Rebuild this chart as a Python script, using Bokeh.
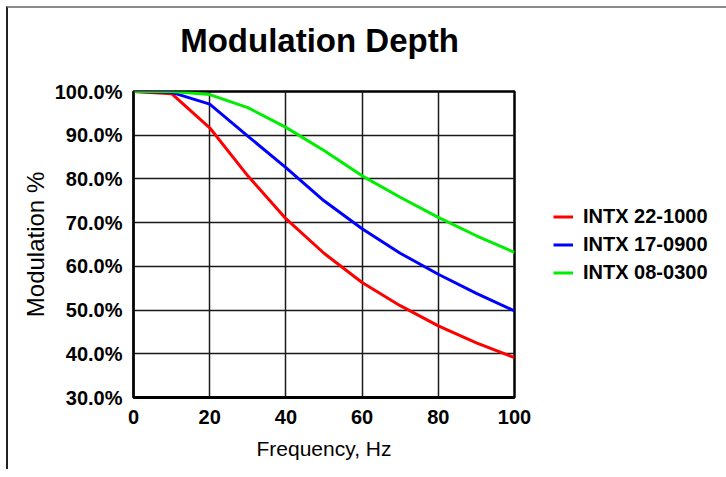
from bokeh.plotting import figure
from bokeh.models import Legend, LegendItem, NumeralTickFormatter, FixedTicker, Range1d, Div
from bokeh.layouts import column
from bokeh.embed import file_html
from bokeh.resources import INLINE

freq = [0, 10, 20, 30, 40, 50, 60, 70, 80, 90, 100]
intx_22_1000 = [1.000, 0.995, 0.917, 0.807, 0.709, 0.630, 0.563, 0.510, 0.464, 0.425, 0.391]
intx_17_0900 = [1.000, 0.998, 0.971, 0.898, 0.826, 0.750, 0.686, 0.630, 0.582, 0.538, 0.498]
intx_08_0300 = [1.000, 1.000, 0.993, 0.963, 0.918, 0.865, 0.807, 0.758, 0.712, 0.670, 0.632]
series_names = ["INTX 22-1000", "INTX 17-0900", "INTX 08-0300"]
series_colors = ["#ff0000", "#0000ff", "#00ee00"]
x_ticks = [0, 20, 40, 60, 80, 100]
y_ticks = [0.3, 0.4, 0.5, 0.6, 0.7, 0.8, 0.9, 1.0]
title_text = "Modulation Depth"

FONT = "Liberation Sans"

title_div = Div(text=title_text, width=613, height=50,
                styles={"font-family": FONT, "font-size": "33px", "font-weight": "bold",
                        "text-align": "center", "line-height": "55px", "color": "#000000"})

p = figure(frame_width=381, frame_height=306, output_backend="svg", toolbar_location=None,
           min_border_left=125, min_border_right=204, min_border_top=23, min_border_bottom=72,
           x_range=Range1d(0, 100), y_range=Range1d(0.3, 1.0))
p.background_fill_color = "white"
p.border_fill_color = "white"
p.outline_line_color = "#000000"
p.outline_line_width = 2.5

renderers = []
for ys, c in zip([intx_22_1000, intx_17_0900, intx_08_0300], series_colors):
    r = p.line(freq, ys, line_color=c, line_width=3)
    renderers.append(r)

for ax in (p.xaxis[0], p.yaxis[0]):
    ax.major_label_text_font = FONT
    ax.major_label_text_font_size = "20px"
    ax.major_label_text_font_style = "bold"
    ax.major_label_text_color = "#000000"
    ax.axis_label_text_font = FONT
    ax.axis_label_text_font_style = "normal"
    ax.axis_label_text_color = "#000000"
    ax.major_tick_line_color = None
    ax.minor_tick_line_color = None
    ax.major_tick_out = 0
    ax.major_tick_in = 0

p.xaxis.axis_label_text_font_size = "21px"
p.yaxis.axis_label_text_font_size = "24px"
p.xaxis.axis_line_color = "#000000"
p.xaxis.axis_line_width = 3
p.yaxis.axis_line_color = "#000000"
p.yaxis.axis_line_width = 2

p.xaxis.ticker = FixedTicker(ticks=x_ticks)
p.yaxis.ticker = FixedTicker(ticks=y_ticks)
p.yaxis.formatter = NumeralTickFormatter(format="0.0%")
p.xaxis.axis_label = "Frequency, Hz"
p.yaxis.axis_label = "Modulation %"
p.xaxis.major_label_standoff = 12
p.yaxis.major_label_standoff = 11
p.xaxis.axis_label_standoff = 10
p.yaxis.axis_label_standoff = 3

p.xgrid.grid_line_color = "#1a1a1a"
p.ygrid.grid_line_color = "#1a1a1a"
p.xgrid.grid_line_width = 1.5
p.ygrid.grid_line_width = 1.5

legend = Legend(items=[LegendItem(label=n, renderers=[r]) for n, r in zip(series_names, renderers)],
                location="center_left")
legend.label_text_font = FONT
legend.label_text_font_size = "20px"
legend.label_text_font_style = "bold"
legend.label_text_color = "#000000"
legend.border_line_color = None
legend.background_fill_alpha = 0
legend.glyph_width = 20
legend.glyph_height = 20
legend.label_height = 20
legend.spacing = 5
legend.label_standoff = 10
legend.padding = 0
legend.margin = 39
p.add_layout(legend, "right")

layout = column(title_div, p, spacing=0)
layout.styles = {"margin-left": "6px", "margin-top": "6px",
                 "border-top": "2px solid #8a8a8a", "border-left": "2px solid #222222"}

open("out.html", "w").write(file_html(layout, INLINE))
